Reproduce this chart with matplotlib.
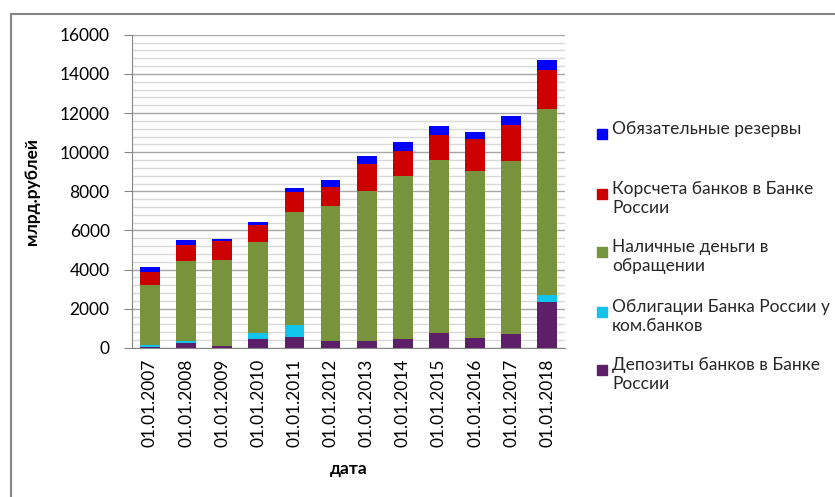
import numpy as np
from matplotlib import pyplot as plt
from matplotlib.patches import Rectangle
from matplotlib.ticker import MultipleLocator

dates = ["01.01.2007", "01.01.2008", "01.01.2009", "01.01.2010", "01.01.2011", "01.01.2012",
         "01.01.2013", "01.01.2014", "01.01.2015", "01.01.2016", "01.01.2017", "01.01.2018"]

# млрд. рублей
deposits = [50, 240, 100, 480, 560, 330, 340, 480, 770, 530, 730, 2340]
bonds = [100, 100, 0, 290, 620, 0, 0, 0, 0, 0, 0, 350]
cash = [3050, 4090, 4400, 4620, 5790, 6930, 7670, 8310, 8820, 8530, 8810, 9530]
corr_accounts = [670, 820, 970, 900, 1010, 960, 1390, 1280, 1270, 1610, 1840, 1960]
reserves = [240, 240, 70, 150, 180, 370, 430, 430, 460, 360, 460, 530]

series = [
    (deposits, "#5E1F69", "Депозиты банков в Банке\nРоссии"),
    (bonds, "#12C3EC", "Облигации Банка России у\nком.банков"),
    (cash, "#77933C", "Наличные деньги в\nобращении"),
    (corr_accounts, "#CC0000", "Корсчета банков в Банке\nРоссии"),
    (reserves, "#0000FF", "Обязательные резервы"),
]

plt.rcParams['font.family'] = ['Lato', 'DejaVu Sans']
fs = 12.5

fig = plt.figure(figsize=(8.35, 4.97), dpi=100)
ax = fig.add_axes([0.158, 0.300, 0.519, 0.630])

x = np.arange(len(dates))
bottom = np.zeros(len(dates))
for vals, color, label in series:
    ax.bar(x, vals, 0.55, bottom=bottom, color=color, zorder=3)
    bottom += np.array(vals)

ax.set_ylim(0, 16000)
ax.set_xlim(-0.5, len(dates) - 0.5)
ax.yaxis.set_major_locator(MultipleLocator(2000))
ax.yaxis.set_minor_locator(MultipleLocator(400))
ax.grid(which='major', axis='y', color='#a6a6a6', lw=1.0, zorder=0)
ax.grid(which='minor', axis='y', color='#d9d9d9', lw=1.0, zorder=0)
ax.set_xticks(x)
ax.set_xticklabels(dates, rotation=90, fontsize=fs)
ax.tick_params(axis='y', labelsize=fs, length=6, pad=10, color='#868686', which='major')
ax.tick_params(axis='y', which='minor', length=0)
ax.tick_params(axis='x', length=0, pad=8)
for s in ['top', 'right']:
    ax.spines[s].set_visible(False)
for s in ['left', 'bottom']:
    ax.spines[s].set_color('#868686')
ax.set_ylabel("млрд.рублей", fontsize=fs, fontweight='bold', labelpad=14)
ax.set_xlabel("дата", fontsize=fs, fontweight='bold', labelpad=10)

# legend drawn by hand, top entry first
ys = [130, 190, 248, 308, 366]
for (vals, color, label), y in zip(series[::-1], ys):
    fy = 1 - y / 497
    fig.patches.append(Rectangle((597 / 835, fy - 0.018), 10 / 835, 10 / 497,
                                 transform=fig.transFigure, color=color))
    fig.text(612 / 835, fy + 0.018, label, fontsize=fs, va='top', color='#262626',
             linespacing=1.25)

# outer chart frame
fig.patches.append(Rectangle((11 / 835, -0.1), 1.1, 1 - 14 / 497 + 0.1, transform=fig.transFigure,
                             fill=False, edgecolor='#868686', lw=1.5))

fig.savefig("out.png", dpi=100)
